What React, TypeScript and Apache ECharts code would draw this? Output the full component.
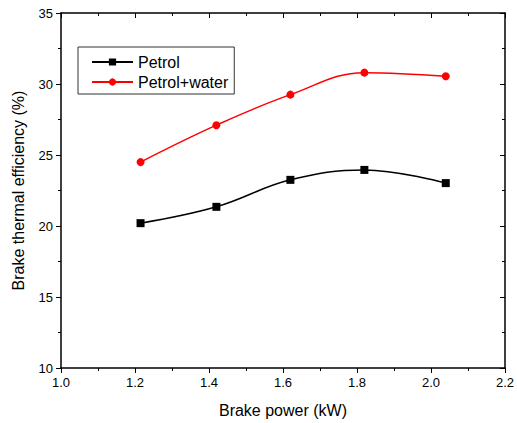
import React, { useEffect, useRef } from "react";
import * as echarts from "echarts";

const brakePower = [1.215, 1.42, 1.62, 1.82, 2.04];
const petrol = [20.2, 21.35, 23.25, 23.95, 23.02];
const petrolWater = [24.5, 27.1, 29.25, 30.8, 30.55];
const seriesNames = ["Petrol", "Petrol+water"];

const font = "Arial, 'Liberation Sans', sans-serif";

export default function App() {
  const ref = useRef<HTMLDivElement>(null);
  useEffect(() => {
    const chart = echarts.init(ref.current!, null, { renderer: "svg" });
    const axisLine = { show: true, lineStyle: { color: "#000", width: 1.5 } };
    chart.setOption({
      animation: false,
      backgroundColor: "#fff",
      grid: { left: 61, right: 9, top: 13, bottom: 55, containLabel: false },
      legend: {
        data: seriesNames,
        orient: "vertical",
        left: 78,
        top: 47,
        padding: [7, 6, 4, 13],
        itemGap: 4,
        itemWidth: 41,
        itemHeight: 9,
        borderColor: "#333",
        borderWidth: 1,
        textStyle: { fontFamily: font, fontSize: 16, color: "#000" },
      },
      xAxis: [
        {
          type: "value",
          min: 1.0,
          max: 2.2,
          interval: 0.2,
          name: "Brake power (kW)",
          nameLocation: "middle",
          nameGap: 34,
          nameTextStyle: { fontFamily: font, fontSize: 16, color: "#000" },
          axisLine,
          axisTick: { show: true, length: 5, inside: false, lineStyle: { color: "#000" } },
          minorTick: { show: true, splitNumber: 2, length: 3, lineStyle: { color: "#000" } },
          axisLabel: {
            fontFamily: font,
            fontSize: 13,
            color: "#000",
            formatter: (v: number) => v.toFixed(1),
          },
          splitLine: { show: false },
        },
        {
          type: "value",
          position: "top",
          min: 1.0,
          max: 2.2,
          interval: 0.2,
          axisLine,
          axisTick: { show: true, length: 5, inside: true, lineStyle: { color: "#000" } },
          minorTick: { show: true, splitNumber: 2, length: 3, lineStyle: { color: "#000" } },
          axisLabel: { show: false },
          splitLine: { show: false },
        },
      ],
      yAxis: [
        {
          type: "value",
          min: 10,
          max: 35,
          interval: 5,
          name: "Brake thermal efficiency (%)",
          nameLocation: "middle",
          nameGap: 35,
          nameTextStyle: { fontFamily: font, fontSize: 16, color: "#000" },
          axisLine,
          axisTick: { show: true, length: 5, inside: false, lineStyle: { color: "#000" } },
          minorTick: { show: true, splitNumber: 2, length: 3, lineStyle: { color: "#000" } },
          axisLabel: { fontFamily: font, fontSize: 13, color: "#000" },
          splitLine: { show: false },
        },
        {
          type: "value",
          position: "right",
          min: 10,
          max: 35,
          interval: 5,
          axisLine,
          axisTick: { show: true, length: 5, inside: true, lineStyle: { color: "#000" } },
          minorTick: { show: true, splitNumber: 2, length: 3, lineStyle: { color: "#000" } },
          axisLabel: { show: false },
          splitLine: { show: false },
        },
      ],
      series: [
        {
          name: seriesNames[0],
          type: "line",
          smooth: 0.4,
          data: brakePower.map((x, i) => [x, petrol[i]]),
          symbol: "rect",
          symbolSize: 8,
          itemStyle: { color: "#000" },
          lineStyle: { color: "#000", width: 1.5 },
        },
        {
          name: seriesNames[1],
          type: "line",
          smooth: 0.4,
          data: brakePower.map((x, i) => [x, petrolWater[i]]),
          symbol: "circle",
          symbolSize: 8,
          itemStyle: { color: "#f00" },
          lineStyle: { color: "#f00", width: 1.5 },
        },
      ],
    });
    return () => chart.dispose();
  }, []);
  return <div ref={ref} style={{ width: 517, height: 423, position: "absolute", left: 0, top: 0 }} />;
}
